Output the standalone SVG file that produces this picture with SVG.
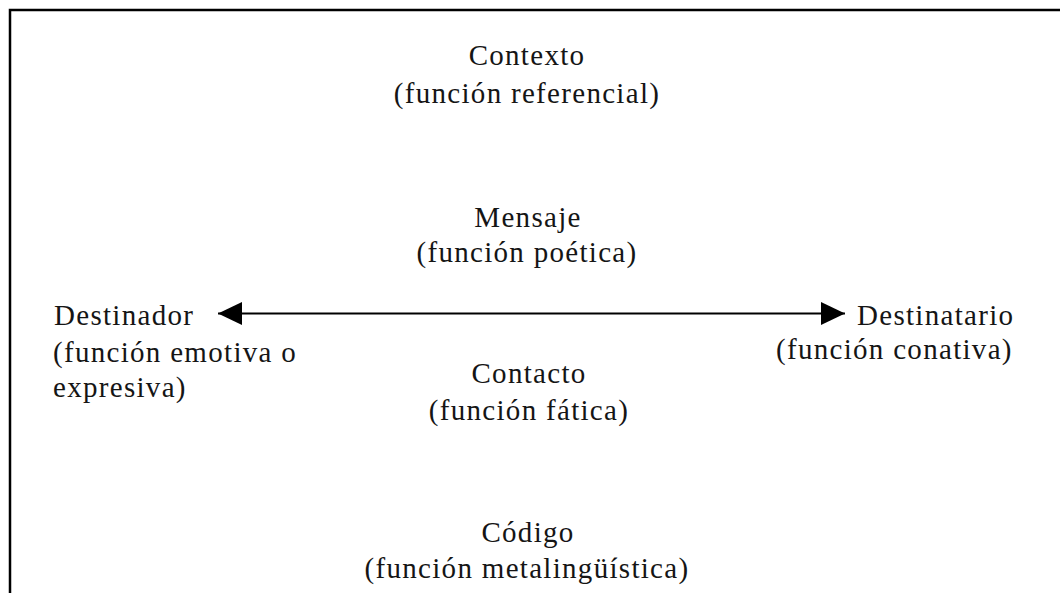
<svg xmlns="http://www.w3.org/2000/svg" width="1060" height="593" viewBox="0 0 1060 593">
<style>
text{font-family:"Liberation Serif","Times New Roman",serif;font-size:29px;fill:#151515;letter-spacing:1.3px}
.c{text-anchor:middle}
.frame{fill:none;stroke:#000;stroke-width:2.5}
.conn{stroke:#000;stroke-width:2;fill:none}
</style>
<defs>
<marker id="ah" markerUnits="userSpaceOnUse" markerWidth="26" markerHeight="24" refX="24" refY="11.5" orient="auto-start-reverse" viewBox="0 0 26 24">
<path d="M0,0 L24,11.5 L0,23 Z" fill="#000"/>
</marker>
</defs>
<rect width="1060" height="593" fill="#fff"/>
<polyline class="frame" points="10,593 10,10 1060,10"/>
<g id="connectors">
<line class="conn" x1="218" y1="313.5" x2="845" y2="313.5" marker-start="url(#ah)" marker-end="url(#ah)"/>
</g>
<g id="contexto">
<text class="c" x="527" y="65">Contexto</text>
<text class="c" x="527" y="103">(función referencial)</text>
</g>
<g id="mensaje">
<text class="c" x="528" y="227">Mensaje</text>
<text class="c" x="527" y="262">(función poética)</text>
</g>
<g id="destinador">
<text x="54" y="325">Destinador</text>
<text x="53" y="362">(función emotiva o</text>
<text x="53" y="397">expresiva)</text>
</g>
<g id="destinatario">
<text x="857" y="325">Destinatario</text>
<text x="776" y="359">(función conativa)</text>
</g>
<g id="contacto">
<text class="c" x="529" y="383">Contacto</text>
<text class="c" x="529" y="420">(función fática)</text>
</g>
<g id="codigo">
<text class="c" x="528" y="542">Código</text>
<text class="c" x="527" y="578">(función metalingüística)</text>
</g>
</svg>
